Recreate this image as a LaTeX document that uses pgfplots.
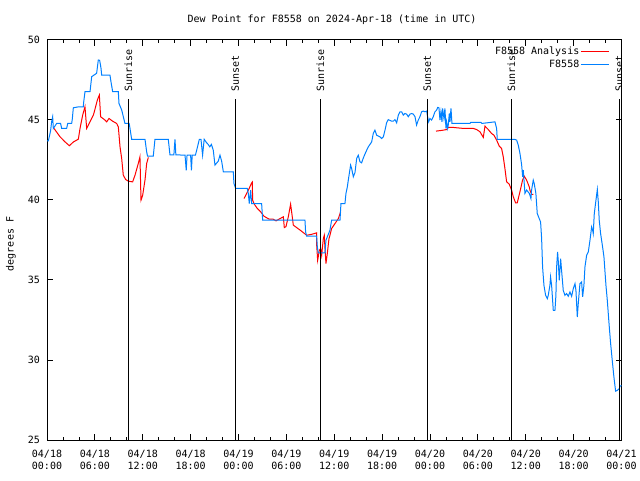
\documentclass[border=0pt]{standalone}
\usepackage{fontspec}
\setmainfont{DejaVu Sans Mono}
\usepackage{pgfplots}
\pgfplotsset{compat=1.18}
\definecolor{dpblue}{RGB}{0,128,255}
\definecolor{dpred}{RGB}{255,0,0}

\begin{document}
\begin{tikzpicture}
\path[use as bounding box] (0pt,0pt) rectangle (640pt,480pt);
\begin{axis}[
  at={(47pt,40pt)}, anchor=south west,
  scale only axis, width=574.5pt, height=400.5pt,
  xmin=0, xmax=72, ymin=25, ymax=50,
  xtick={0,6,...,72}, minor x tick num=2,
  ytick={25,30,...,50},
  xticklabels={{04/18\\00:00},{04/18\\06:00},{04/18\\12:00},{04/18\\18:00},{04/19\\00:00},{04/19\\06:00},{04/19\\12:00},{04/19\\18:00},{04/20\\00:00},{04/20\\06:00},{04/20\\12:00},{04/20\\18:00},{04/21\\00:00}},
  tick align=inside, major tick length=6pt, minor tick length=3pt,
  tick style={black, line width=0.8pt},
  axis line style={black, line width=1pt},
  font=\fontsize{10}{12}\selectfont,
  xticklabel style={align=center, inner sep=0pt, yshift=-10pt, font=\fontsize{10}{12}\selectfont},
  yticklabel style={inner sep=0pt, xshift=-7pt, font=\fontsize{10}{12}\selectfont},
  /pgf/number format/assume math mode=true,
  unbounded coords=jump,
  legend plot pos=right,
  legend cell align=right,
  legend image code/.code={\draw[#1] (0pt,0pt) -- (28pt,0pt);},
  legend style={at={(1,1)}, anchor=north east, xshift=-12pt, yshift=-5.5pt,
    draw=none, fill=none, inner sep=0pt, row sep=0pt,
    font=\fontsize{10}{12}\selectfont,
    nodes={inner sep=1pt, text height=8pt, text depth=3pt}},
]
% analysis (red)
\addplot[dpred, line width=1pt] coordinates {
(0.79,44.51)(1.63,43.93)(2.26,43.61)(2.80,43.37)(3.30,43.6)(3.93,43.78)(4.14,44.45)(4.47,45.28)(4.76,45.8)(4.97,44.45)(5.39,44.86)(5.81,45.28)(5.93,45.49)(6.31,46.22)(6.56,46.53)(6.72,45.18)(7.27,44.97)(7.48,44.86)(7.77,45.07)(8.23,44.9)(8.73,44.76)(8.94,44.55)(9.15,43.3)(9.36,42.57)(9.56,41.53)(9.86,41.26)(10.19,41.16)(10.73,41.11)(11.03,41.53)(11.44,42.26)(11.65,42.68)(11.78,39.97)(11.99,40.28)(12.28,41.22)(12.49,42.26)(12.70,42.64)
(18,nan)
(24.69,40.07)(25.23,40.59)(25.65,41.05)(25.73,41.1)(25.77,39.97)(25.98,39.72)(26.36,39.45)(26.78,39.24)(27.19,38.97)(27.86,38.78)(28.36,38.78)(28.70,38.68)(29.2,38.82)(29.62,38.93)(29.74,38.26)(29.95,38.32)(30.24,38.93)(30.53,39.72)(30.66,39.24)(30.87,38.41)(31.29,38.26)(31.91,38.03)(32.54,37.78)(33.17,37.84)(33.79,37.93)(33.80,37.16)(33.92,36.22)(34.13,36.84)(34.29,36.95)(34.42,36.53)(34.63,37.57)(34.75,37.78)(34.84,36.95)(34.96,36.01)(35.13,36.64)(35.34,37.57)(35.46,37.78)(35.67,38.2)(36.09,38.51)(36.51,38.82)(36.80,39.24)
(42,nan)
(48.75,44.28)(49.66,44.34)(50.08,44.38)(50.29,44.51)(50.92,44.51)(52.17,44.45)(53.42,44.45)(53.84,44.38)(54.26,44.24)(54.68,43.89)(54.89,44.59)(55.30,44.38)(55.72,44.13)(56.01,44.03)(56.35,43.72)(56.68,43.34)(56.97,43.2)(57.18,42.68)(57.39,41.95)(57.60,41.12)(57.93,40.97)(58.23,40.59)(58.44,40.18)(58.73,39.8)(58.93,39.8)(59.27,40.49)(59.60,41.22)(59.81,41.47)(60.11,41.22)(60.44,40.8)(60.53,40.59)(60.74,40.34)(60.95,40.34)
};
\addlegendentry{F8558 Analysis}
% observations (blue)
\addplot[dpblue, line width=1pt] coordinates {
(0.0,43.67)(0.17,43.67)(0.45,44.3)(0.58,44.86)(0.71,45.17)(0.79,44.45)(1.0,44.6)(1.21,44.76)(1.7,44.76)(1.84,44.45)(2.46,44.45)(2.6,44.76)(3.09,44.76)(3.17,45.03)(3.30,45.74)(4.0,45.8)(4.55,45.8)(4.6,46.1)(4.76,46.74)(5.39,46.74)(5.60,47.68)(6.22,47.89)(6.43,48.72)(6.6,48.7)(6.77,48.2)(6.85,47.78)(7.89,47.78)(8.02,47.36)(8.23,46.74)(8.94,46.74)(9.02,46.01)(9.36,45.6)(9.77,44.76)(10.3,44.76)(10.40,44.45)(10.61,43.77)(12.28,43.77)(12.49,42.99)(12.6,42.72)(13.32,42.72)(13.53,43.77)(15.20,43.77)(15.41,42.8)(15.9,42.8)(16.04,43.77)(16.15,42.8)(17.3,42.78)(17.45,41.84)(17.55,42.78)(18.0,42.78)(18.1,41.84)(18.2,42.78)(18.6,42.78)(18.76,43.09)(19.09,43.77)(19.3,43.77)(19.5,42.78)(19.7,43.77)(20.01,43.55)(20.2,43.45)(20.4,43.3)(20.6,43.45)(20.84,43.09)(21.05,42.16)(21.47,42.41)(21.68,42.78)(21.89,42.4)(22.10,41.74)(23.35,41.74)(23.43,41.01)(23.64,40.7)
(25.10,40.7)(25.23,40.39)(25.35,39.76)(25.52,40.6)(25.65,39.76)(26.90,39.76)(27.03,38.72)(32.33,38.72)(32.41,37.99)(32.54,37.72)(33.79,37.72)(33.88,37.05)(34.00,36.68)(34.84,36.68)(34.96,37.47)(35.46,38.09)(35.67,38.72)(36.72,38.72)(36.84,39.76)(37.34,39.76)(37.47,40.39)(37.64,40.8)(37.76,41.22)(38.05,42.16)(38.18,41.95)(38.39,41.43)(38.60,41.7)(38.81,42.57)(39.01,42.78)(39.22,42.37)(39.43,42.3)(39.64,42.6)(39.97,42.99)(40.27,43.3)(40.69,43.61)(40.89,44.13)(41.10,44.34)(41.31,44.03)(41.73,43.92)(41.94,43.82)(42.15,43.92)(42.36,44.34)(42.56,44.8)(42.77,45.0)(42.98,44.95)(43.19,44.9)(43.40,44.9)(43.61,45.0)(43.82,44.8)(44.03,45.28)(44.24,45.49)(44.44,45.49)(44.65,45.28)(44.86,45.38)(45.07,45.34)(45.28,45.18)(45.49,45.34)(45.70,45.38)(45.91,45.34)(46.12,45.18)(46.32,44.66)(46.53,44.97)(46.74,45.18)(46.95,45.49)(47.16,45.53)(47.37,45.49)(47.58,45.53)(47.70,45.18)(47.83,44.86)(47.99,45.07)(48.20,44.97)(48.41,45.18)(48.62,45.49)(48.83,45.59)(48.96,45.76)(49.12,45.74)(49.25,44.97)(49.37,45.49)(49.50,44.86)(49.58,45.7)(49.75,45.07)(49.87,45.7)(50.00,44.45)(50.08,44.86)(50.21,44.45)(50.29,44.66)(50.42,45.38)(50.50,44.86)(50.63,45.7)(50.75,44.76)(53.0,44.76)(53.1,44.82)(54.4,44.82)(54.5,44.76)(56.14,44.86)(56.35,44.45)(56.43,43.76)(58.65,43.76)(58.86,43.72)(59.06,43.41)(59.27,42.9)(59.48,42.2)(59.61,41.43)(59.69,41.84)
(59.90,40.39)(60.11,40.6)(60.45,40.39)(60.65,40.07)(60.73,40.6)(60.94,41.22)(61.06,41.01)(61.27,40.39)(61.44,39.14)(61.69,38.82)(61.86,38.61)(61.99,37.57)(62.11,35.80)(62.28,34.66)(62.49,34.03)(62.70,33.82)(62.82,34.03)(63.03,34.66)(63.11,35.18)(63.24,34.66)(63.45,33.09)(63.66,33.09)(63.78,34.03)(63.87,35.8)(63.99,36.74)(64.07,36.22)(64.20,34.97)(64.37,36.32)(64.49,35.59)(64.70,34.34)(64.91,34.03)(65.12,34.14)(65.33,33.97)(65.54,34.24)(65.75,33.97)(65.96,34.45)(66.17,34.76)(66.29,34.34)(66.46,32.68)(66.58,33.51)(66.79,34.76)(67.0,34.87)(67.13,33.93)(67.29,34.66)(67.42,35.8)(67.63,36.53)(67.84,36.74)(68.05,37.47)(68.26,38.30)(68.38,38.1)(68.46,37.89)(68.59,39.14)(68.80,39.97)(68.97,40.64)(69.09,39.87)(69.21,38.72)(69.38,37.89)(69.63,37.05)(69.80,36.43)(70.05,34.66)(70.22,33.72)(70.47,32.05)(70.64,31.01)(70.84,29.97)(71.05,28.93)(71.26,28.05)(71.47,28.1)(71.72,28.2)(71.8,28.35)(72.0,28.4)
};
\addlegendentry{F8558}
% sunrise / sunset markers
\addplot[black, line width=1pt, forget plot] coordinates {(10.19,25)(10.19,46.3)};
\addplot[black, line width=1pt, forget plot] coordinates {(23.60,25)(23.60,46.3)};
\addplot[black, line width=1pt, forget plot] coordinates {(34.25,25)(34.25,46.3)};
\addplot[black, line width=1pt, forget plot] coordinates {(47.66,25)(47.66,46.3)};
\addplot[black, line width=1pt, forget plot] coordinates {(58.20,25)(58.20,46.3)};
\addplot[black, line width=1pt, forget plot] coordinates {(71.72,25)(71.72,46.3)};
\node[rotate=90, anchor=west, inner sep=0pt] at (axis cs:10.19,46.72) {Sunrise};
\node[rotate=90, anchor=west, inner sep=0pt] at (axis cs:23.60,46.72) {Sunset};
\node[rotate=90, anchor=west, inner sep=0pt] at (axis cs:34.25,46.72) {Sunrise};
\node[rotate=90, anchor=west, inner sep=0pt] at (axis cs:47.66,46.72) {Sunset};
\node[rotate=90, anchor=west, inner sep=0pt] at (axis cs:58.20,46.72) {Sunrise};
\node[rotate=90, anchor=west, inner sep=0pt] at (axis cs:71.72,46.72) {Sunset};
\end{axis}
\node[font=\fontsize{10}{12}\selectfont] at (332pt,460pt) {Dew Point for F8558 on 2024-Apr-18 (time in UTC)};
\node[rotate=90, font=\fontsize{10}{12}\selectfont] at (11pt,236pt) {degrees F};
\end{tikzpicture}
\end{document}
